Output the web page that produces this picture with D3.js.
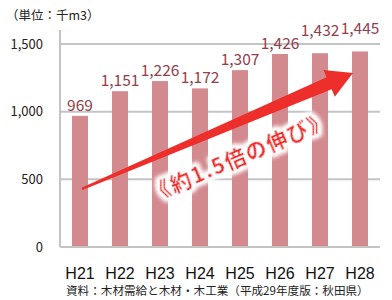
<!DOCTYPE html>
<html><head><meta charset="utf-8">
<script src="https://cdn.jsdelivr.net/npm/d3@7"></script>
<style>
html,body{margin:0;padding:0;background:#fff;}
svg{display:block;}
</style></head>
<body>
<svg id="c" width="392" height="300"></svg>
<script>
const categories = ["H21","H22","H23","H24","H25","H26","H27","H28"];
const values = [969, 1151, 1226, 1172, 1307, 1426, 1432, 1445];
const yTicks = [0, 500, 1000, 1500];
const unitLabel = "（単位：千m3）";
const sourceLabel = "資料：木材需給と木材・木工業（平成29年度版：秋田県）";
const growthLabel = "《約1.5倍の伸び》";
// arrow anchors in data terms
const arrowFrom = {cat: "H21", value: 430};
const arrowTo = {cat: "H28", value: 1285};

const svg = d3.select("#c");
const W = 392, H = 300;
const m = {left: 60, right: 12, top: 30, bottom: 53};
const x = d3.scaleBand().domain(categories).range([m.left, W - m.right]).paddingInner(0.6).paddingOuter(0.3);
const y = d3.scaleLinear().domain([0, 1500]).range([247, 44]);

const jp = "'Noto Sans CJK JP', 'Noto Sans', sans-serif";

// gridlines
svg.append("g").selectAll("line").data(yTicks.filter(d => d > 0)).join("line")
  .attr("x1", m.left).attr("x2", W - m.right)
  .attr("y1", d => y(d)).attr("y2", d => y(d))
  .attr("stroke", "#c4c4c4").attr("stroke-width", 2);

// y axis
const yAxis = d3.axisLeft(y).tickValues(yTicks).tickFormat(d3.format(",")).tickSize(0).tickPadding(17);
const ya = svg.append("g").attr("transform", `translate(${m.left},0)`).call(yAxis);
ya.select(".domain").remove();
ya.selectAll("text").attr("font-family", jp).attr("font-size", 13).attr("fill", "#222");
svg.append("line").attr("x1", m.left).attr("x2", m.left).attr("y1", 30).attr("y2", y(0))
  .attr("stroke", "#c4c4c4").attr("stroke-width", 2);

// bars
svg.append("g").selectAll("rect").data(values).join("rect")
  .attr("x", (d, i) => x(categories[i]))
  .attr("width", x.bandwidth())
  .attr("y", d => y(d))
  .attr("height", d => y(0) - y(d))
  .attr("fill", "#d38a8f");

// x axis line
svg.append("line").attr("x1", m.left).attr("x2", W - m.right).attr("y1", y(0)).attr("y2", y(0))
  .attr("stroke", "#c4c4c4").attr("stroke-width", 2);

// x axis labels
const xAxis = d3.axisBottom(x).tickSize(0).tickPadding(21);
const xa = svg.append("g").attr("transform", `translate(0,${y(0)})`).call(xAxis);
xa.select(".domain").remove();
xa.selectAll("text").attr("font-family", "'Liberation Sans', Arial, sans-serif").attr("font-size", 16).attr("fill", "#111");

// value labels
svg.append("g").selectAll("text").data(values).join("text")
  .attr("x", (d, i) => x(categories[i]) + x.bandwidth() / 2)
  .attr("y", d => y(d) - (d > 1430 ? 17 : 5))
  .attr("text-anchor", "middle")
  .attr("font-family", jp).attr("font-size", 15.5)
  .attr("fill", "#93404b")
  .text(d => d3.format(",")(d));

// arrow
const x0 = x(arrowFrom.cat) + x.bandwidth() / 2 + 2, y0 = y(arrowFrom.value);
const x1 = x(arrowTo.cat) + x.bandwidth() / 2 - 7, y1 = y(arrowTo.value);
const L = Math.hypot(x1 - x0, y1 - y0);
const ang = Math.atan2(y1 - y0, x1 - x0) * 180 / Math.PI;
const headLen = 26, headHalf = 14.5, shaftHalf = 6.5, tailHalf = 1.2;
const ag = svg.append("g").attr("transform", `translate(${x0},${y0}) rotate(${ang})`);
ag.append("path")
  .attr("d", d3.line()([[0, -tailHalf], [L - headLen, -shaftHalf], [L - headLen, -headHalf], [L, 0],
    [L - headLen, headHalf], [L - headLen, shaftHalf], [0, tailHalf]]) + "Z")
  .attr("fill", "#ee2e2a");

// growth label
const defs = svg.append("defs");
const f = defs.append("filter").attr("id", "glow").attr("x", "-20%").attr("y", "-50%").attr("width", "140%").attr("height", "200%");
f.append("feMorphology").attr("in", "SourceAlpha").attr("operator", "dilate").attr("radius", 3).attr("result", "d");
f.append("feGaussianBlur").attr("in", "d").attr("stdDeviation", 2).attr("result", "b");
f.append("feFlood").attr("flood-color", "#fff");
f.append("feComposite").attr("in2", "b").attr("operator", "in").attr("result", "w");
const fm = f.append("feMerge");
fm.append("feMergeNode").attr("in", "w");
fm.append("feMergeNode").attr("in", "w");
fm.append("feMergeNode").attr("in", "SourceGraphic");

const tt = 0.535 * L;
ag.append("text")
  .attr("x", tt).attr("y", 31)
  .attr("text-anchor", "middle").attr("dominant-baseline", "central")
  .attr("font-family", jp).attr("font-weight", "bold").attr("font-size", 21)
  .attr("letter-spacing", 1.6)
  .attr("fill", "#ee2e2a").attr("filter", "url(#glow)")
  .text(growthLabel);

// unit label
svg.append("text").attr("x", 6).attr("y", 20)
  .attr("font-family", jp).attr("font-size", 12.5).attr("fill", "#222").text(unitLabel);

// source
svg.append("text").attr("x", 66).attr("y", 294.5)
  .attr("font-family", jp).attr("font-size", 11.6).attr("fill", "#222").text(sourceLabel);
</script>
</body></html>
